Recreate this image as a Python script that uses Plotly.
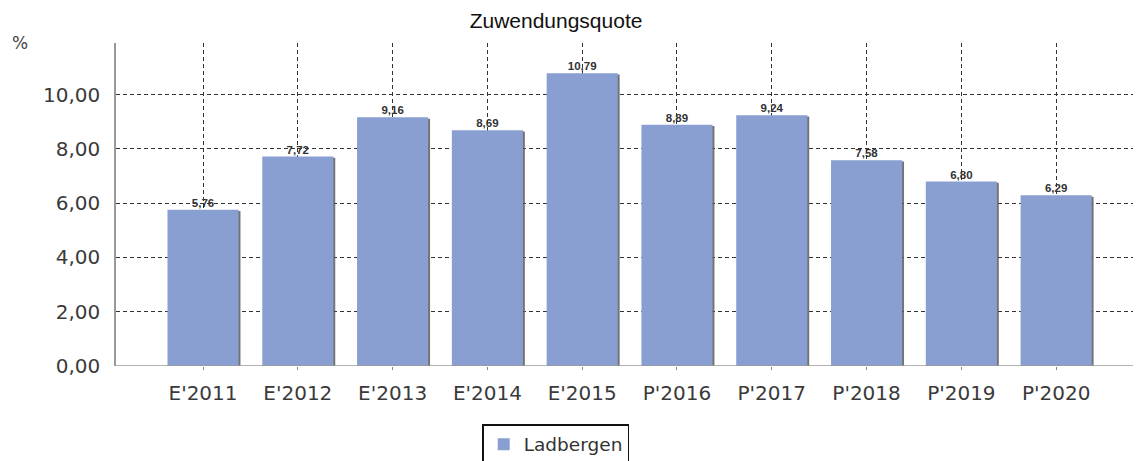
import plotly.graph_objects as go

categories = ["E'2011", "E'2012", "E'2013", "E'2014", "E'2015", "P'2016", "P'2017", "P'2018", "P'2019", "P'2020"]
values = [5.76, 7.72, 9.16, 8.69, 10.79, 8.89, 9.24, 7.58, 6.80, 6.29]
series_name = "Ladbergen"
title_text = "Zuwendungsquote"
unit_label = "%"

labels = [f"{v:.2f}".replace(".", ",") for v in values]
xs = list(range(len(categories)))

fig = go.Figure()
# shadow
fig.add_trace(go.Bar(
    x=xs, y=[v - 0.05 for v in values], width=0.75, offset=-0.355,
    marker=dict(color="rgba(90,90,90,0.85)", line=dict(width=0)),
    showlegend=False, hoverinfo="skip",
))
fig.add_trace(go.Bar(
    x=xs, y=values, width=0.75, offset=-0.375, name=series_name,
    marker=dict(color="#8A9FD1", line=dict(width=0)),
))
fig.add_trace(go.Scatter(
    x=xs, y=values, mode="text", text=labels, textposition="top center",
    textfont=dict(family="Liberation Sans, Arial", size=11.5, color="#333333", weight="bold"),
    showlegend=False, hoverinfo="skip", cliponaxis=False,
))

fig.update_layout(
    width=1133, height=453,
    margin=dict(l=108, r=0, t=35, b=95, autoexpand=False),
    paper_bgcolor="white", plot_bgcolor="white",
    barmode="overlay",
    separators=",.",
    title=dict(text=title_text, x=0.4837, xanchor="center", y=0.973, yanchor="middle",
               font=dict(family="Liberation Sans, Arial", size=21, color="#111111")),
    showlegend=True,
    legend=dict(x=0.429, xanchor="center", y=-0.18, yanchor="top", orientation="h",
                bordercolor="#111111", borderwidth=1.5, bgcolor="white",
                font=dict(family="DejaVu Sans, Verdana", size=18.5, color="#333333"),
                traceorder="normal", itemwidth=30),
    xaxis=dict(
        range=[-0.918, 9.895], tickmode="array", tickvals=xs, ticktext=categories,
        showgrid=True, gridcolor="#333333", griddash="4px,3px", gridwidth=1,
        showline=False, zeroline=False,
        ticks="outside", ticklen=3, tickcolor="#888888", ticklabelstandoff=6,
        tickfont=dict(family="DejaVu Sans, Verdana", size=20, color="#3a3a3a"),
    ),
    yaxis=dict(
        range=[0, 11.9], tickvals=[0, 2, 4, 6, 8, 10], tickformat=".2f",
        showgrid=True, gridcolor="#333333", griddash="4px,3px", gridwidth=1,
        showline=True, linecolor="#999999", linewidth=1.5,
        zeroline=False, ticks="", ticklabelstandoff=10,
        tickfont=dict(family="DejaVu Sans, Verdana", size=20, color="#3a3a3a"),
    ),
    shapes=[dict(type="line", xref="paper", yref="y", x0=0, x1=1, y0=0, y1=0,
                 line=dict(color="#999999", width=1.5))],
    annotations=[dict(text=unit_label, xref="paper", yref="paper", x=-0.094, y=1.0,
                      xanchor="center", yanchor="middle", showarrow=False,
                      font=dict(family="DejaVu Sans, Verdana", size=17, color="#444444"))],
)

fig.write_html("out.html")
